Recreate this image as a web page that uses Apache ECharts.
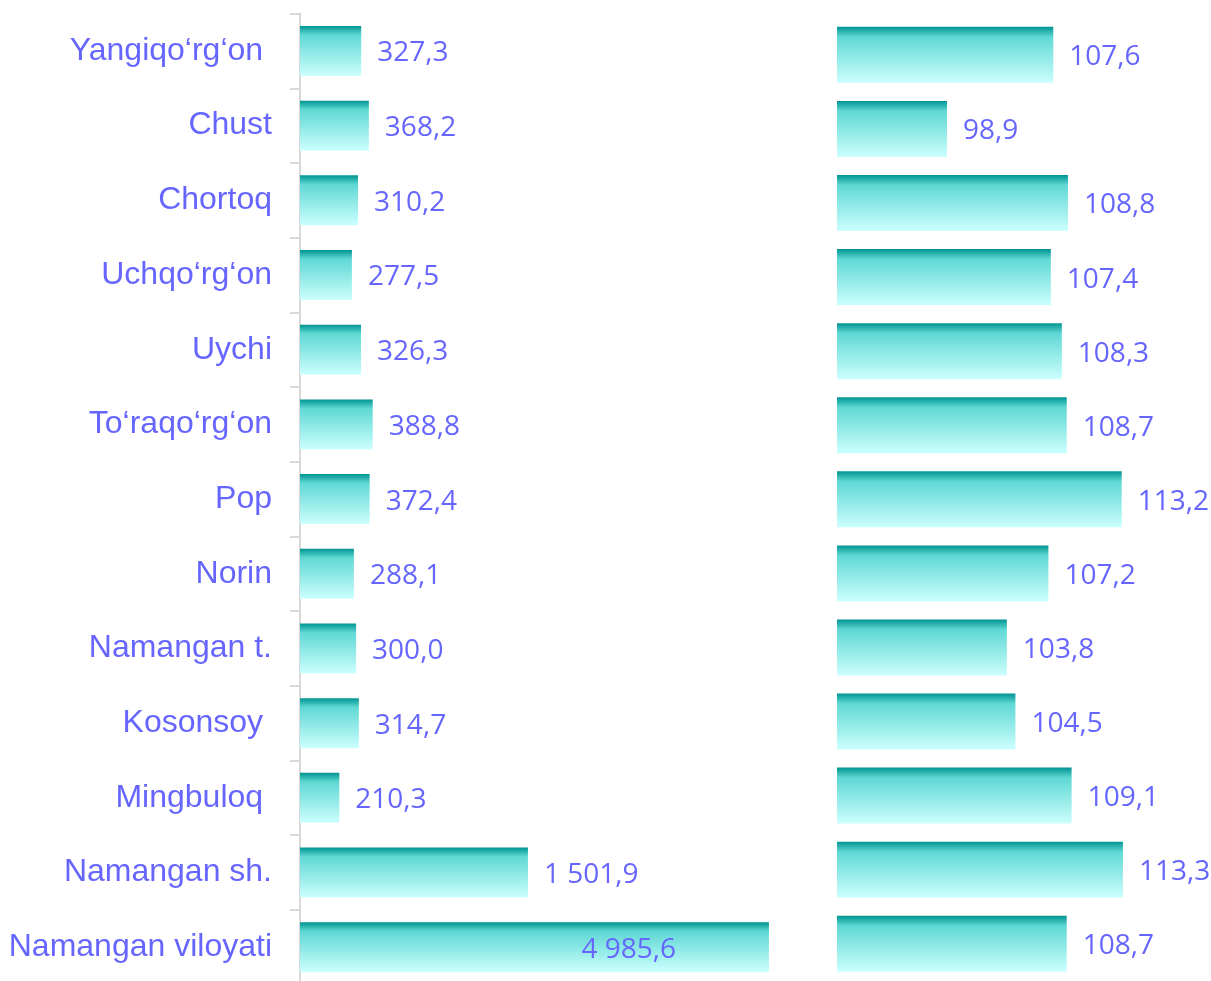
<!DOCTYPE html>
<html>
<head>
<meta charset="utf-8">
<script src="https://cdn.jsdelivr.net/npm/echarts@6/dist/echarts.min.js"></script>
<style>
  html, body { margin: 0; padding: 0; background: #ffffff; overflow: hidden; }
  #chart { width: 1211px; height: 995px; }
</style>
</head>
<body>
<div id="chart"></div>
<script>
// Categories, top to bottom (trailing spaces as in the original labels)
const categories = [
  'Yangiqo\u2018rg\u2018on ', 'Chust', 'Chortoq', 'Uchqo\u2018rg\u2018on', 'Uychi',
  'To\u2018raqo\u2018rg\u2018on', 'Pop', 'Norin', 'Namangan t.', 'Kosonsoy ',
  'Mingbuloq ', 'Namangan sh.', 'Namangan viloyati'
];
// Left series (absolute values)
const volumeValues = [327.3, 368.2, 310.2, 277.5, 326.3, 388.8, 372.4, 288.1, 300.0, 314.7, 210.3, 1501.9, 4985.6];
// Right series (growth, %)
const growthValues = [107.6, 98.9, 108.8, 107.4, 108.3, 108.7, 113.2, 107.2, 103.8, 104.5, 109.1, 113.3, 108.7];

const LABEL_COLOR = '#6666ff';

function fmt(v) {
  const s = Number(v).toFixed(1);
  const parts = s.split('.');
  const intPart = parts[0].replace(/\B(?=(\d{3})+(?!\d))/g, ' ');
  return intPart + ',' + parts[1];
}

const barGradient = new echarts.graphic.LinearGradient(0, 0, 0, 1, [
  { offset: 0, color: '#009491' },
  { offset: 0.18, color: '#5fd8d4' },
  { offset: 1, color: '#ccfffe' }
]);

const valueLabel = {
  show: true,
  position: 'right',
  distance: 16,
  offset: [0, 2.5],
  color: LABEL_COLOR,
  fontFamily: 'Open Sans',
  fontSize: 28,
  formatter: p => fmt(p.value)
};

const leftData = volumeValues.map((v, i) => {
  if (i === volumeValues.length - 1) {
    return { value: v, label: { position: 'insideRight', distance: 93 } };
  }
  return v;
});

const chart = echarts.init(document.getElementById('chart'), null, { renderer: 'canvas' });
chart.setOption({
  animation: false,
  backgroundColor: '#ffffff',
  grid: [
    { left: 300, top: 13.6, width: 481, height: 971, containLabel: false },
    { left: 837, top: 17.8, width: 366.6, height: 963, containLabel: false }
  ],
  xAxis: [
    {
      gridIndex: 0,
      type: 'value',
      min: 0,
      max: 5050,
      show: false,
      breaks: [
        { start: 450, end: 750, gap: 17 },
        { start: 2000, end: 4200, gap: 5 }
      ],
      breakArea: { show: false }
    },
    {
      gridIndex: 1,
      type: 'value',
      min: 89.9,
      max: 119.9,
      show: false
    }
  ],
  yAxis: [
    {
      gridIndex: 0,
      type: 'category',
      data: categories,
      inverse: true,
      axisLine: { show: true, lineStyle: { color: '#d9d9d9', width: 2 } },
      axisTick: { show: true, length: 10, lineStyle: { color: '#d9d9d9', width: 2 } },
      axisLabel: {
        margin: 28,
        color: LABEL_COLOR,
        fontFamily: 'Liberation Sans',
        fontSize: 32,
        padding: [4, 0, 0, 0]
      },
      splitLine: { show: false }
    },
    {
      gridIndex: 1,
      type: 'category',
      data: categories,
      inverse: true,
      show: false
    }
  ],
  series: [
    {
      type: 'bar',
      xAxisIndex: 0,
      yAxisIndex: 0,
      data: leftData,
      barWidth: 50,
      itemStyle: { color: barGradient },
      label: valueLabel
    },
    {
      type: 'bar',
      xAxisIndex: 1,
      yAxisIndex: 1,
      data: growthValues,
      barWidth: 56,
      itemStyle: { color: barGradient },
      label: valueLabel
    }
  ]
});
</script>
</body>
</html>
